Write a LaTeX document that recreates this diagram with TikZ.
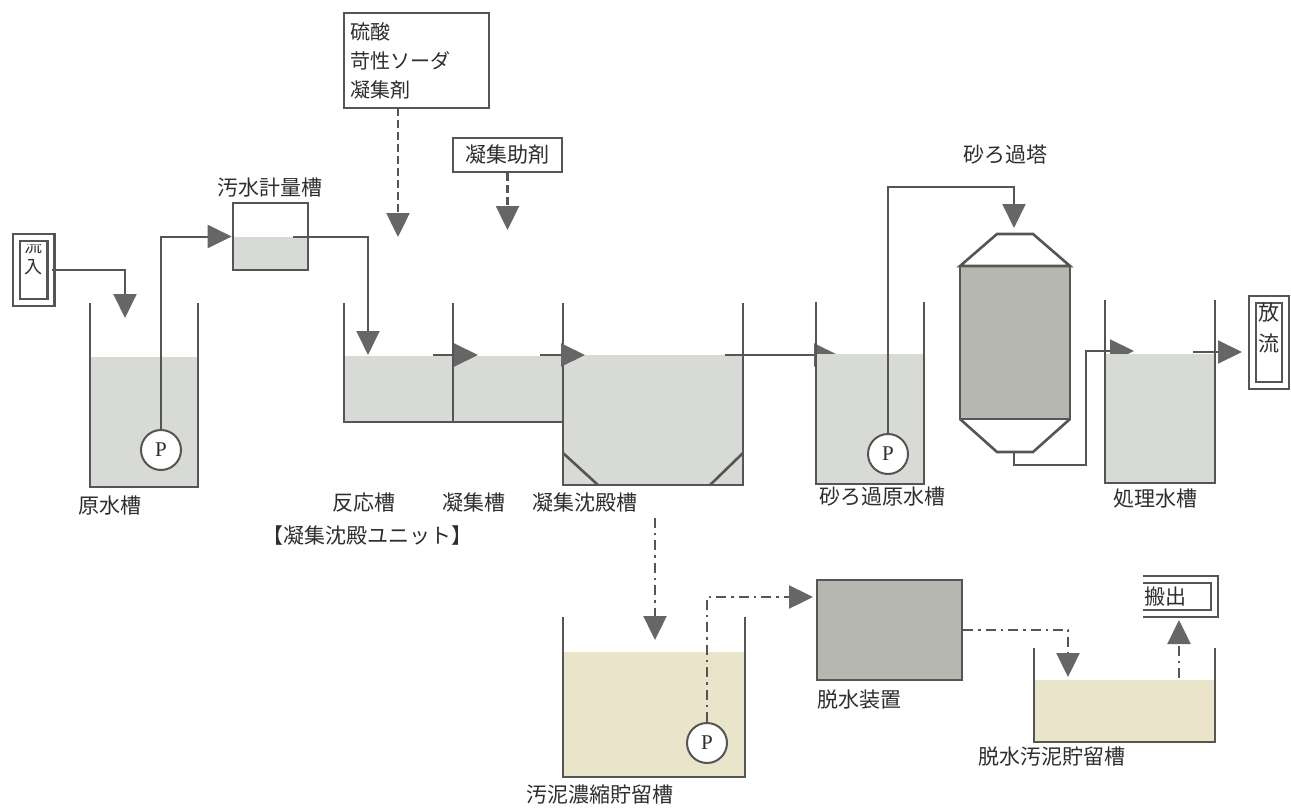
\documentclass[tikz,border=0pt]{standalone}
\usepackage{fontspec}
\setmainfont{Noto Sans CJK JP}
\newfontfamily\pfont{Liberation Serif}
\usetikzlibrary{arrows.meta}
\definecolor{linec}{HTML}{555555}
\definecolor{water}{HTML}{D8DBD5}
\definecolor{sandc}{HTML}{B6B8B0}
\definecolor{sludge}{HTML}{EAE5CA}
\definecolor{tipc}{HTML}{666666}
\definecolor{txt}{HTML}{2E2E2E}
\tikzset{
  wall/.style={draw=linec, line width=1.3pt},
  pipe/.style={draw=linec, line width=1pt},
  flow/.style={pipe, -{Triangle[length=12pt,width=11.5pt,fill=tipc,color=tipc]}},
  dflow/.style={flow, line width=1.2pt, dash pattern=on 4pt off 2pt},
  ddflow/.style={flow, line width=1.2pt, dash pattern=on 5pt off 2.5pt on 1.2pt off 2.5pt},
  lbl/.style={font=\fontsize{10.5}{12}\selectfont, text=txt, inner sep=0pt},
  pump/.style={circle, draw=linec, line width=1pt, fill=white, minimum size=20pt, inner sep=0pt, font=\pfont\fontsize{10.5}{11}\selectfont, text=txt},
  dbox/.style={draw=linec, line width=1.1pt, double=white, double distance=2.4pt, inner sep=0pt},
  sbox/.style={draw=linec, line width=1.3pt, inner sep=0pt},
}
\begin{document}
\begin{tikzpicture}[x=0.5pt,y=-0.5pt]
\useasboundingbox[fill=white] (0,0) rectangle (1291,808);

% ---------- inflow box ----------
\node[dbox, minimum width=17.4pt, minimum height=32.6pt] (inbox) at (33.5,270) {};
\begin{scope}
  \clip (20,244) rectangle (47,299);
  \node[lbl, font=\fontsize{9}{10}\selectfont] (inA) at (33.5,246) {流};
  \node[lbl, font=\fontsize{9}{10}\selectfont] (inB) at (33.5,267) {入};
\end{scope}

% ---------- raw water tank ----------
\fill[water] (90,357) rectangle (198,487);
\draw[wall] (90,303) -- (90,487) -- (198,487) -- (198,303);
\node[pump] (p1) at (161,450) {P};
\node[lbl] (l1) at (110,506) {原水槽};
\coordinate (t1in) at (125,318);
\draw[flow] (inbox.east) -| (t1in);

% ---------- metering tank ----------
\fill[water] (233,237) rectangle (308,270);
\node[sbox, minimum width=37.5pt, minimum height=33.5pt] (meter) at (270.5,236.5) {};
\node[lbl] (l2) at (270,188) {汚水計量槽};
\draw[flow] (p1.north) |- (meter.west);
\coordinate (mout) at (293,237);
\coordinate (r1in) at (368,355);
\draw[flow] (mout) -| (r1in);

% ---------- chemicals ----------
\node[sbox, minimum width=72.5pt, minimum height=47.5pt, text width=66pt, align=left,
      font=\fontsize{10}{14.5}\selectfont, text=txt] (chem) at (416.5,60.5)
      {硫酸\\苛性ソーダ\\凝集剤};
\coordinate (c1s) at (398,108);
\coordinate (c1e) at (398,237);
\draw[dflow] (c1s) -- (c1e);
\node[sbox, minimum width=54.5pt, minimum height=17pt, font=\fontsize{10.5}{12}\selectfont, text=txt] (aid) at (507.5,155) {凝集助剤};
\coordinate (a1e) at (507.5,230);
\draw[dflow] (aid.south) -- (a1e);

% ---------- reaction / flocculation ----------
\fill[water] (344,356) rectangle (563,422);
\draw[wall] (344,303) -- (344,422) -- (563,422);
\draw[wall] (453,303) -- (453,422);
\node[lbl] (l3) at (364,503) {反応槽};
\node[lbl] (l4) at (474,503) {凝集槽};

% ---------- settling tank ----------
\fill[water] (563,355) rectangle (743,485);
\draw[wall] (563,303) -- (563,485) -- (743,485) -- (743,303);
\draw[wall] (563,453) -- (598,485);
\draw[wall] (743,453) -- (710,485);
\node[lbl] (l5) at (585,503) {凝集沈殿槽};
\node[lbl] (l6) at (367,536) {【凝集沈殿ユニット】};

\coordinate (f1a) at (433,355); \coordinate (f1b) at (478,355);
\draw[flow] (f1a) -- (f1b);
\coordinate (f2a) at (540,355); \coordinate (f2b) at (585,355);
\draw[flow] (f2a) -- (f2b);
\coordinate (f3a) at (725,355); \coordinate (f3b) at (838,355);
\draw[flow] (f3a) -- (f3b);

% ---------- sand filter raw water tank ----------
\fill[water] (816,354) rectangle (924,484);
\draw[wall] (816,302) -- (816,484) -- (924,484) -- (924,302);
\node[pump] (p2) at (888,454) {P};
\node[lbl] (l7) at (882,497) {砂ろ過原水槽};
\coordinate (p2top) at (888,187);
\coordinate (sfin) at (1014,228);
\draw[flow] (p2.north) -- (p2top) -| (sfin);

% ---------- sand filter tower ----------
\fill[sandc] (960,266) rectangle (1070,419);
\draw[wall] (960,266) -- (997,234) -- (1033,234) -- (1070,266) -- cycle;
\draw[wall] (960,266) rectangle (1070,419);
\draw[wall] (960,419) -- (997,452) -- (1033,452) -- (1070,419);
\node[lbl] (l8) at (1005,155) {砂ろ過塔};
\coordinate (sfout) at (1014,452);
\coordinate (sfb) at (1014,465);
\coordinate (tt1) at (1086,351);
\coordinate (tt2) at (1134,351);
\draw[flow] (sfout) -- (sfb) -| (tt1) -- (tt2);

% ---------- treated water tank ----------
\fill[water] (1105,354) rectangle (1215,483);
\draw[wall] (1105,300) -- (1105,483) -- (1215,483) -- (1215,300);
\node[lbl] (l9) at (1155,499) {処理水槽};
\node[dbox, minimum width=16.6pt, minimum height=43pt] (out) at (1269,342.5) {};
\node[lbl] (outA) at (1269,313) {放};
\node[lbl] (outB) at (1269,343) {流};
\coordinate (o1a) at (1193,352);
\coordinate (o1b) at (1242,352);
\draw[flow] (o1a) -- (o1b);

% ---------- sludge thickening tank ----------
\fill[sludge] (563,652) rectangle (745,777);
\draw[wall] (563,617) -- (563,777) -- (745,777) -- (745,617);
\node[pump] (p3) at (707,743) {P};
\node[lbl] (l10) at (600,795) {汚泥濃縮貯留槽};
\coordinate (s1a) at (655,518);
\coordinate (s1b) at (655,640);
\draw[ddflow] (s1a) -- (s1b);

% ---------- dewatering ----------
\node[draw=linec, line width=1.3pt, fill=sandc, minimum width=72.5pt, minimum height=50pt, inner sep=0pt] (dew) at (889.5,630) {};
\node[lbl, anchor=west] (l11) at (817,700) {脱水装置};
\coordinate (p3top) at (707,597);
\coordinate (dewin) at (813,597);
\draw[ddflow] (p3.north) -- (p3top) -- (dewin);
\coordinate (cakein) at (1068,677);
\draw[ddflow] (dew.east) -| (cakein);

% ---------- cake tank ----------
\fill[sludge] (1034,680) rectangle (1215,742);
\draw[wall] (1034,648) -- (1034,742) -- (1215,742) -- (1215,648);
\node[lbl] (l12) at (1052,757) {脱水汚泥貯留槽};
\draw[linec, line width=1.1pt, double=white, double distance=2.4pt]
  (1143,579.4) -- (1214.6,579.4) -- (1214.6,613.6) -- (1143,613.6);
\node[lbl, anchor=west] (carry) at (1144,597) {搬出};
\coordinate (k1a) at (1179,678);
\coordinate (k1b) at (1179,620);
\draw[ddflow] (k1a) -- (k1b);
\end{tikzpicture}
\end{document}
